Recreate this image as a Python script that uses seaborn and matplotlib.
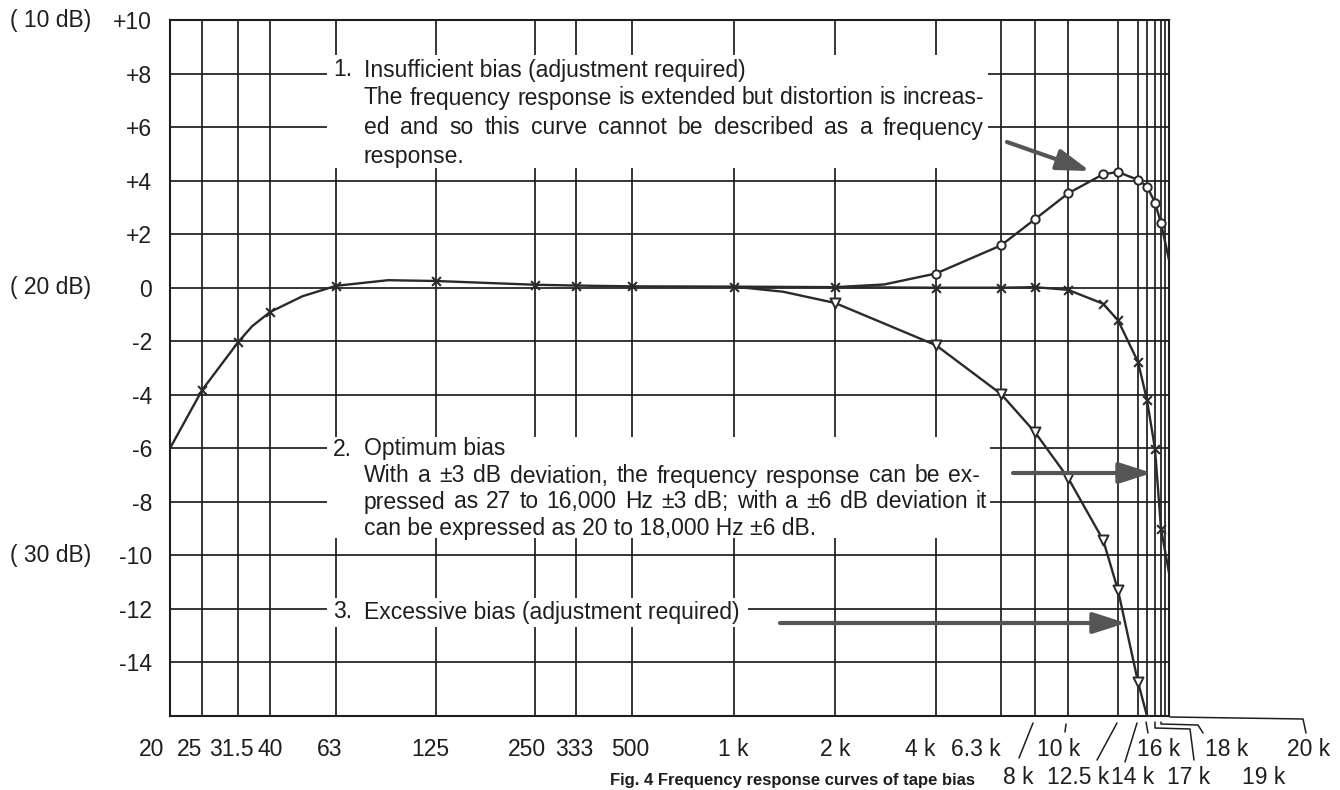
import numpy as np
import seaborn as sns
import matplotlib.pyplot as plt
from matplotlib.patches import Rectangle
from matplotlib.lines import Line2D

# ---- data (frequency in Hz, level in dB) ----
tick_freqs = [20, 25, 31.5, 40, 63, 125, 250, 333, 500, 1000, 2000, 4000, 6300,
              8000, 10000, 12500, 14000, 16000, 17000, 18000, 19000, 20000]
tick_labels = ['20', '25', '31.5', '40', '63', '125', '250', '333', '500', '1 k', '2 k',
               '4 k', '6.3 k', '8 k', '10 k', '12.5 k', '14 k', '16 k', '17 k', '18 k',
               '19 k', '20 k']
db_ticks = [10, 8, 6, 4, 2, 0, -2, -4, -6, -8, -10, -12, -14]
db_labels = ['+10', '+8', '+6', '+4', '+2', '0', '-2', '-4', '-6', '-8', '-10', '-12', '-14']
ref_levels = [10, 0, -10]
ref_labels = ['( 10 dB)', '( 20 dB)', '( 30 dB)']

# 2. optimum bias (x marks)
opt_freq = [20, 25, 31.5, 35, 40, 50, 63, 90, 125, 250, 333, 500, 1000, 2000, 4000,
            6300, 8000, 10000, 11700, 12500, 14000, 16000, 17000, 18000, 20000]
opt_db = [-6.0, -3.83, -2.04, -1.44, -0.91, -0.32, 0.07, 0.28, 0.25, 0.11, 0.08, 0.05,
          0.04, 0.02, 0.0, 0.0, 0.02, -0.08, -0.6, -1.22, -2.77, -4.2, -6.02, -9.0, -10.65]
opt_mark = [0, 1, 1, 0, 1, 0, 1, 0, 1, 1, 1, 1, 1, 1, 1, 1, 1, 1, 1, 1, 1, 1, 1, 1, 0]

# 1. insufficient bias (circles)
low_freq = [2000, 2800, 4000, 6300, 8000, 10000, 11700, 12500, 14000, 16000, 17000, 18000, 20000]
low_db = [0.02, 0.12, 0.53, 1.58, 2.56, 3.52, 4.24, 4.32, 4.03, 3.78, 3.18, 2.41, 1.04]
low_mark = [0, 0, 1, 1, 1, 1, 1, 1, 1, 1, 1, 1, 0]

# 3. excessive bias (triangles)
high_freq = [1000, 1400, 2000, 4000, 6300, 8000, 10000, 11700, 12500, 14000, 16000]
high_db = [0.04, -0.15, -0.57, -2.15, -3.97, -5.4, -7.1, -9.43, -11.3, -14.73, -16.0]
high_mark = [0, 0, 1, 1, 1, 1, 1, 1, 1, 1, 0]

# ---- layout (pixel positions of the original drawing) ----
W, H = 1340, 790
# the printed frequency scale is not a true log scale: tick positions along the axis
tick_px = [170, 202, 238, 270, 336, 436, 535, 576, 632, 734, 835, 936, 1001,
           1035, 1068, 1118, 1138, 1147, 1155, 1161, 1165, 1169]
label_x = [152, 190, 231, 270, 330, 430, 527, 574, 630, 733, 835, 920, 976,
           1018, 1059, 1078, 1133, 1159, 1189, 1227, 1264, 1309]
label_row = [0, 0, 0, 0, 0, 0, 0, 0, 0, 0, 0, 0, 0, 1, 0, 1, 1, 0, 1, 0, 1, 0]
leaders = {
    '8 k': [(1033, 723), (1019, 758)],
    '10 k': [(1066, 724), (1065, 732)],
    '12.5 k': [(1117, 723), (1097, 760)],
    '14 k': [(1137, 723), (1125, 762)],
    '16 k': [(1146, 722), (1148, 733)],
    '17 k': [(1155, 722), (1155, 728), (1190, 729), (1194, 760)],
    '18 k': [(1161, 722), (1161, 724), (1198, 725), (1203, 733)],
    '20 k': [(1170, 717), (1303, 719), (1306, 733)],
}

INK = '#1e1e1e'
CURVE = '#2a2a2a'
ARROW = '#555555'
FS = 16.5

logf = np.log10(tick_freqs)


def fwd(f):
    f = np.maximum(np.asarray(f, dtype=float), 1e-3)
    return np.interp(np.log10(f), logf, tick_px)


def inv(p):
    return 10 ** np.interp(np.asarray(p, dtype=float), tick_px, logf)


def F(x, y):
    return x / W, 1 - y / H


sns.set_theme(style='white')
plt.rcParams['font.family'] = ['Liberation Sans', 'DejaVu Sans']

fig = plt.figure(figsize=(W / 100, H / 100), dpi=100)
fig.patch.set_facecolor('white')
ax = fig.add_axes([170 / W, (H - 716) / H, (1169 - 170) / W, (716 - 20) / H])
ax.set_xscale('function', functions=(fwd, inv))
ax.set_xlim(20, 20000)
ax.set_ylim(-16, 10)

ax.set_axisbelow(True)
ax.set_xticks(tick_freqs)
ax.set_xticklabels([''] * len(tick_freqs))
ax.xaxis.set_minor_locator(plt.NullLocator())
ax.set_yticks(db_ticks)
ax.set_yticklabels(db_labels)
ax.grid(True, color=INK, lw=1.25)
ax.tick_params(axis='x', length=6, width=1.1, color=INK, direction='out')
ax.tick_params(axis='y', length=0, pad=13, labelsize=FS, labelcolor=INK)
for s in ax.spines.values():
    s.set_color(INK)
    s.set_linewidth(1.5)

# white areas behind the notes (the grid is interrupted there)
for x0, y0, x1, y1 in [(327, 55, 988, 168), (327, 437, 990, 538), (327, 598, 748, 627)]:
    ax.add_patch(Rectangle(F(x0, y1), (x1 - x0) / W, (y1 - y0) / H,
                           transform=fig.transFigure, fc='white', ec='none', zorder=1))

# curves
for fr, db, mk, marker, face, size in [
        (opt_freq, opt_db, opt_mark, 'x', CURVE, 40),
        (low_freq, low_db, low_mark, 'o', 'white', 36),
        (high_freq, high_db, high_mark, 'v', 'white', 52)]:
    sns.lineplot(x=fr, y=db, ax=ax, color=CURVE, lw=1.7, sort=False,
                 estimator=None, zorder=3)
    mx = [f for f, m in zip(fr, mk) if m]
    my = [d for d, m in zip(db, mk) if m]
    if marker == 'x':
        sns.scatterplot(x=mx, y=my, ax=ax, marker='x', s=size, color=CURVE,
                        linewidth=1.5, zorder=4)
    else:
        sns.scatterplot(x=mx, y=my, ax=ax, marker=marker, s=size, color=face,
                        edgecolor=CURVE, linewidth=1.4, zorder=4)

# left reference labels
for lvl, lab in zip(ref_levels, ref_labels):
    y = 20 + (10 - lvl) * (696 / 26)
    fig.text(*F(10, y), lab, ha='left', va='center', fontsize=FS, color=INK)

# x labels
for lab, lx, row in zip(tick_labels, label_x, label_row):
    fig.text(*F(lx, 750 + 28 * row), lab, ha='center', va='center',
             fontsize=FS, color=INK)
for lab, pts in leaders.items():
    xs = [p[0] / W for p in pts]
    ys = [1 - p[1] / H for p in pts]
    fig.add_artist(Line2D(xs, ys, transform=fig.transFigure, color=INK, lw=1.1))

# notes (text, number, y, right edge for justified lines)
notes = [
    ('1.', 'Insufficient bias (adjustment required)', 70, None),
    (None, 'The frequency response is extended but distortion is increas-', 98, 984),
    (None, 'ed and so this curve cannot be described as a frequency', 128, 984),
    (None, 'response.', 157, None),
    ('2.', 'Optimum bias', 449, None),
    (None, 'With a \u00b13 dB deviation, the frequency response can be ex-', 476, 980),
    (None, 'pressed as 27 to 16,000 Hz \u00b13 dB; with a \u00b16 dB deviation it', 502, 987),
    (None, 'can be expressed as 20 to 18,000 Hz \u00b16 dB.', 529, None),
    ('3.', 'Excessive bias (adjustment required)', 612, None),
]
renderer = fig.canvas.get_renderer()
for num, txt, y, right in notes:
    if num:
        fig.text(*F(333, y), num, ha='left', va='center', fontsize=FS, color=INK, zorder=5)
    if right is None:
        fig.text(*F(364, y), txt, ha='left', va='center', fontsize=FS, color=INK, zorder=5)
        continue
    words = txt.split(' ')
    parts = [fig.text(0, 0, w, ha='left', va='center', fontsize=FS, color=INK, zorder=5)
             for w in words]
    widths = [p.get_window_extent(renderer=renderer).width for p in parts]
    gap = (right - 364 - sum(widths)) / (len(words) - 1)
    x = 364
    for p, w in zip(parts, widths):
        p.set_position(F(x, y))
        x += w + gap

for tail, head in [((1007, 142), (1090, 171)), ((1013, 473), (1152, 473)),
                   ((780, 623), (1126, 623))]:
    ax.annotate('', xy=F(*head), xytext=F(*tail), xycoords='figure fraction',
                textcoords='figure fraction', annotation_clip=False, zorder=5,
                arrowprops=dict(arrowstyle='-|>,head_length=1.0,head_width=0.32',
                                lw=3, color=ARROW, shrinkA=0, shrinkB=0,
                                mutation_scale=20))

# caption at the bottom edge of the scan
fig.text(*F(792, 780), 'Fig. 4 Frequency response curves of tape bias', ha='center',
         va='center', fontsize=12, color=INK, fontweight='bold')

fig.savefig('out.png', dpi=100)
